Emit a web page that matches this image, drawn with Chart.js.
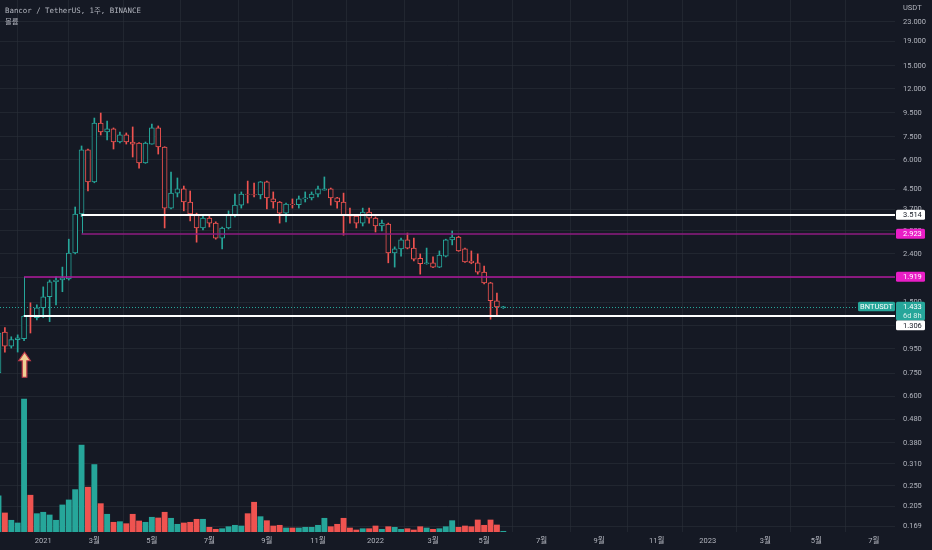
<!DOCTYPE html>
<html>
<head>
<meta charset="utf-8">
<script src="https://cdn.jsdelivr.net/npm/chart.js@4"></script>
<style>
  html, body { margin: 0; padding: 0; background: #151924; }
  canvas { display: block; }
</style>
</head>
<body>
<canvas id="myChart" width="932" height="550"></canvas>
<script>
// weekly BNT/USDT candles, first bar = week of 2020-11-16
const startDate = '2020-11-16';

const opens = [0.752, 1.12, 0.977, 1.04, 1.05, 1.31, 1.29, 1.42, 1.58, 1.83,
  1.86, 1.88, 2.42, 3.54, 6.61, 4.84, 8.59, 7.87, 8.11, 7.14,
  7.65, 7.14, 7.07, 5.82, 7.00, 8.19, 6.80, 3.75, 4.34, 4.52,
  3.98, 3.54, 3.09, 3.40, 3.24, 2.80, 3.09, 3.51, 3.86, 4.30,
  4.28, 4.26, 4.84, 4.10, 3.98, 3.57, 3.90, 3.88, 4.10, 4.14,
  4.30, 4.47, 4.52, 4.14, 3.98, 3.51, 3.47, 3.24, 3.61, 3.40,
  3.15, 3.21, 2.42, 2.52, 2.75, 2.54, 2.30, 2.18, 2.20, 2.11,
  2.35, 2.75, 2.83, 2.52, 2.24, 2.20, 2.01, 1.81, 1.52, 1.42];

const highs = [1.17, 1.17, 1.07, 1.09, 1.32, 1.49, 1.46, 1.74, 1.86, 1.92,
  2.11, 2.77, 3.79, 6.87, 6.67, 9.02, 9.47, 8.76, 8.19, 7.87,
  7.80, 8.27, 7.10, 7.14, 8.51, 8.35, 6.82, 5.33, 5.03, 4.65,
  4.43, 3.57, 3.47, 3.47, 3.28, 3.12, 3.65, 4.30, 4.39, 4.88,
  4.79, 4.86, 4.88, 4.39, 4.00, 3.94, 4.10, 4.22, 4.39, 4.39,
  4.65, 5.08, 4.56, 4.16, 4.34, 3.75, 3.51, 3.75, 3.75, 3.44,
  3.34, 3.24, 2.57, 2.80, 2.94, 2.80, 2.40, 2.54, 2.33, 2.47,
  2.77, 3.00, 2.85, 2.54, 2.47, 2.40, 2.13, 1.82, 1.64, 1.44];

const lows = [0.73, 0.922, 0.958, 0.922, 1.03, 1.11, 1.26, 1.29, 1.24, 1.46,
  1.66, 1.86, 2.40, 3.45, 4.43, 4.80, 7.65, 7.28, 6.67, 7.07,
  7.00, 6.17, 5.54, 5.80, 7.00, 6.35, 3.09, 3.72, 4.18, 3.65,
  3.31, 2.69, 3.03, 3.12, 2.77, 2.52, 3.06, 3.44, 3.75, 3.94,
  4.18, 4.10, 3.72, 3.75, 3.24, 3.28, 3.75, 3.75, 3.98, 4.06,
  4.18, 4.47, 3.86, 3.75, 2.88, 3.24, 3.09, 3.15, 3.24, 2.97,
  3.00, 2.20, 2.11, 2.35, 2.52, 2.24, 1.97, 2.17, 2.10, 2.10,
  2.33, 2.62, 2.46, 2.21, 2.18, 1.97, 1.79, 1.27, 1.32, 1.41];

const closes = [1.11, 0.977, 1.04, 1.06, 1.31, 1.30, 1.42, 1.58, 1.83, 1.86,
  1.90, 2.42, 3.54, 6.61, 4.84, 8.59, 7.87, 8.11, 7.14, 7.65,
  7.14, 7.00, 5.82, 7.07, 8.19, 6.80, 3.75, 4.34, 4.52, 3.98,
  3.54, 3.09, 3.40, 3.24, 2.80, 3.09, 3.51, 3.86, 4.30, 4.28,
  4.26, 4.84, 4.14, 3.98, 3.57, 3.90, 3.88, 4.10, 4.14, 4.30,
  4.52, 4.52, 4.14, 3.98, 3.51, 3.47, 3.24, 3.61, 3.40, 3.15,
  3.24, 2.42, 2.52, 2.75, 2.54, 2.28, 2.18, 2.20, 2.11, 2.37,
  2.75, 2.83, 2.47, 2.22, 2.20, 2.01, 1.81, 1.52, 1.43, 1.433];

// volume, relative units (100k BNT)
const volumes = [36, 19, 11.7, 9, 132.7, 36.7, 18.3, 19.7, 17, 11.7,
  27, 32, 42.3, 86.7, 44.7, 67.3, 28.3, 17.7, 9.7, 10.3,
  8.3, 17.7, 11, 9.7, 14.7, 14, 19.7, 13.7, 7.7, 9,
  9.7, 12.7, 12.7, 4.7, 2.7, 3.3, 5.3, 6.7, 6, 18.3,
  29.7, 15.3, 11.3, 6, 6.7, 4, 4, 4, 4.7, 4.7,
  6.7, 13.7, 5.3, 7.7, 13.7, 4, 2, 3.3, 3.3, 6,
  2.7, 5.3, 4.7, 2.7, 3.3, 2, 5.3, 4, 2.7, 3.3,
  5.3, 11.3, 4.7, 6, 5.3, 12, 6.7, 12, 7, 0.7];

const priceTicks = [0.169, 0.205, 0.25, 0.31, 0.38, 0.48, 0.6, 0.75, 0.95, 1.2, 1.5,
  1.9, 2.4, 3.0, 3.7, 4.5, 6, 7.5, 9.5, 12, 15, 19, 23];

const tickDates = ['2021-01-04', '2021-03-01', '2021-05-03', '2021-07-05', '2021-09-06', '2021-11-01',
  '2022-01-03', '2022-03-07', '2022-05-02', '2022-07-04', '2022-09-05', '2022-11-07',
  '2023-01-02', '2023-03-06', '2023-05-01', '2023-07-03'];
const tickLabels = ['2021', '3월', '5월', '7월', '9월', '11월', '2022', '3월', '5월', '7월', '9월', '11월',
  '2023', '3월', '5월', '7월'];

// drawn levels (two boxes) and the marker
const levelPrices = [3.514, 2.923, 1.919, 1.306];
const levelStartWeeks = [13, 13, 4, 4];
const lastPrice = 1.433;
const countdown = '6d 8h';
const arrowWeek = 4;
const arrowPrice = 0.92;

const teal = '#26a69a';
const red = '#ef5350';
const bg = '#151924';
const gridColor = 'rgba(42, 46, 57, 0.6)';
const axisFont = { family: 'Roboto, "Noto Sans CJK KR", sans-serif', size: 7.5 };
const textColor = '#b2b5be';

const weekMs = 7 * 24 * 3600 * 1000;
const tickWeeks = tickDates.map(d => Math.round((Date.parse(d) - Date.parse(startDate)) / weekMs));
const isUp = closes.map((c, i) => c >= opens[i]);
const colors = isUp.map(u => u ? teal : red);

const lineColors = ['#ffffff', '#8e1b80', '#b0189c', '#ffffff'];
const lineWidths = [2, 1.5, 1.5, 2];
const tagFills = ['#ffffff', '#e91ec6', '#e91ec6', '#ffffff'];
const tagText = ['#131722', '#ffffff', '#ffffff', '#131722'];

function roundRect(ctx, x, y, w, h, r) {
    ctx.beginPath();
    ctx.moveTo(x + r, y);
    ctx.arcTo(x + w, y, x + w, y + h, r);
    ctx.arcTo(x + w, y + h, x, y + h, r);
    ctx.arcTo(x, y + h, x, y, r);
    ctx.arcTo(x, y, x + w, y, r);
    ctx.closePath();
    ctx.fill();
}

const overlay = {
    id: 'overlay',
    beforeDraw(chart) {
        const ctx = chart.ctx;
        ctx.save();
        ctx.fillStyle = bg;
        ctx.fillRect(0, 0, chart.width, chart.height);
        ctx.restore();
    },
    afterDatasetsDraw(chart) {
        const { ctx, chartArea: a, scales: { x, y } } = chart;
        ctx.save();
        ctx.beginPath();
        ctx.rect(a.left, a.top, a.right - a.left, a.bottom - a.top);
        ctx.clip();

        // current price, dotted
        const yl = Math.round(y.getPixelForValue(lastPrice)) + 0.5;
        ctx.strokeStyle = teal;
        ctx.lineWidth = 1;
        ctx.setLineDash([1, 2]);
        ctx.beginPath();
        ctx.moveTo(a.left, yl);
        ctx.lineTo(a.right, yl);
        ctx.stroke();
        ctx.setLineDash([]);

        // left edges of the two boxes
        for (let k = 0; k < levelPrices.length; k += 2) {
            const xe = Math.round(x.getPixelForValue(levelStartWeeks[k])) + 0.5;
            ctx.beginPath();
            ctx.moveTo(xe, y.getPixelForValue(levelPrices[k]));
            ctx.lineTo(xe, y.getPixelForValue(levelPrices[k + 1]));
            ctx.stroke();
        }

        levelPrices.forEach((p, k) => {
            const yp = Math.round(y.getPixelForValue(p));
            ctx.strokeStyle = lineColors[k];
            ctx.lineWidth = lineWidths[k];
            ctx.beginPath();
            ctx.moveTo(x.getPixelForValue(levelStartWeeks[k]), yp);
            ctx.lineTo(a.right, yp);
            ctx.stroke();
        });

        // up arrow under the breakout candle
        const ax = x.getPixelForValue(arrowWeek) + 0.5;
        const ay = y.getPixelForValue(arrowPrice);
        ctx.beginPath();
        ctx.moveTo(ax, ay);
        ctx.lineTo(ax + 5.8, ay + 8.5);
        ctx.lineTo(ax + 2.3, ay + 8.5);
        ctx.lineTo(ax + 2.3, ay + 25);
        ctx.lineTo(ax - 2.3, ay + 25);
        ctx.lineTo(ax - 2.3, ay + 8.5);
        ctx.lineTo(ax - 5.8, ay + 8.5);
        ctx.closePath();
        ctx.fillStyle = '#efcf94';
        ctx.fill();
        ctx.strokeStyle = '#c0394a';
        ctx.lineWidth = 1.2;
        ctx.stroke();
        ctx.restore();
    },
    afterDraw(chart) {
        const { ctx, chartArea: a, scales: { y } } = chart;
        ctx.save();
        ctx.textBaseline = 'middle';

        // title
        ctx.fillStyle = textColor;
        ctx.font = '7.4px "DejaVu Sans Mono", "Noto Sans CJK KR", monospace';
        ctx.fillText('Bancor / TetherUS, 1주, BINANCE', 5, 11.5);
        ctx.fillText('볼륨', 5, 22.5);

        ctx.font = '7.5px Roboto, "Noto Sans CJK KR", sans-serif';
        ctx.fillText('USDT', 903, 8);

        const tx = a.right + 1;
        const tw = 29;
        const yl = y.getPixelForValue(lastPrice);
        const curTop = yl - 5;
        const curBottom = yl + 13.5;

        // level tags on the price axis
        levelPrices.forEach((p, k) => {
            let cy = y.getPixelForValue(p);
            if (cy + 5 > curTop && cy - 5 < curBottom) cy = curBottom + 5;
            ctx.fillStyle = tagFills[k];
            roundRect(ctx, tx, cy - 5, tw, 10, 1.5);
            ctx.fillStyle = tagText[k];
            ctx.textAlign = 'left';
            ctx.fillText(p.toFixed(3), 903, cy + 0.5);
        });

        // current price tag + symbol tag
        ctx.fillStyle = teal;
        roundRect(ctx, tx, curTop, tw, curBottom - curTop, 1.5);
        roundRect(ctx, 858, curTop, a.right - 858, 9.5, 1.5);
        ctx.fillStyle = '#ffffff';
        ctx.fillText(lastPrice.toFixed(3), 903, yl + 0.5);
        ctx.fillStyle = '#d8f0ec';
        ctx.fillText(countdown, 903, yl + 9);
        ctx.fillStyle = '#ffffff';
        ctx.textAlign = 'center';
        ctx.fillText('BNTUSDT', (858 + a.right) / 2, yl + 0.3);
        ctx.restore();
    }
};

const weeks = opens.map((_, i) => i);
const ctx = document.getElementById('myChart');

new Chart(ctx, {
    type: 'bar',
    data: {
        datasets: [{
            label: 'body',
            data: weeks.map(i => ({ x: i, y: [Math.min(opens[i], closes[i]), Math.max(opens[i], closes[i])] })),
            backgroundColor: bg,
            borderColor: colors,
            borderWidth: 1,
            borderSkipped: false,
            barThickness: 5,
            grouped: false,
            yAxisID: 'y'
        }, {
            label: 'wick',
            data: weeks.map(i => ({ x: i, y: [lows[i], highs[i]] })),
            backgroundColor: colors,
            borderWidth: 0,
            barThickness: 1,
            grouped: false,
            yAxisID: 'y'
        }, {
            label: 'volume',
            data: weeks.map(i => ({ x: i, y: volumes[i] })),
            backgroundColor: colors,
            borderWidth: 0,
            barThickness: 5.2,
            grouped: false,
            yAxisID: 'yVol'
        }]
    },
    options: {
        responsive: false,
        animation: false,
        layout: { padding: 0 },
        plugins: { legend: { display: false }, tooltip: { enabled: false } },
        scales: {
            x: {
                type: 'linear',
                min: 0.235,
                max: 140.3,
                offset: false,
                afterBuildTicks: s => { s.ticks = tickWeeks.map(v => ({ value: v })); },
                afterFit: s => { s.height = 18; s.paddingLeft = 0; s.paddingRight = 0; },
                grid: { color: gridColor, drawTicks: false },
                border: { display: false },
                ticks: {
                    autoSkip: false, maxRotation: 0, padding: 5,
                    color: textColor, font: axisFont,
                    callback: (v, i) => tickLabels[i]
                }
            },
            y: {
                type: 'logarithmic',
                position: 'right',
                min: 0.1596,
                max: 28.5,
                afterBuildTicks: s => { s.ticks = priceTicks.map(v => ({ value: v })); },
                afterFit: s => { s.width = 37; s.paddingTop = 0; s.paddingBottom = 0; },
                grid: { color: gridColor, drawTicks: false },
                border: { display: false },
                ticks: {
                    autoSkip: false, padding: 8,
                    color: textColor, font: axisFont,
                    callback: v => Number(v).toFixed(3)
                }
            },
            yVol: {
                type: 'linear',
                display: false,
                min: 0,
                max: Math.max(...volumes) / 0.25
            }
        }
    },
    plugins: [overlay]
});
</script>
</body>
</html>
